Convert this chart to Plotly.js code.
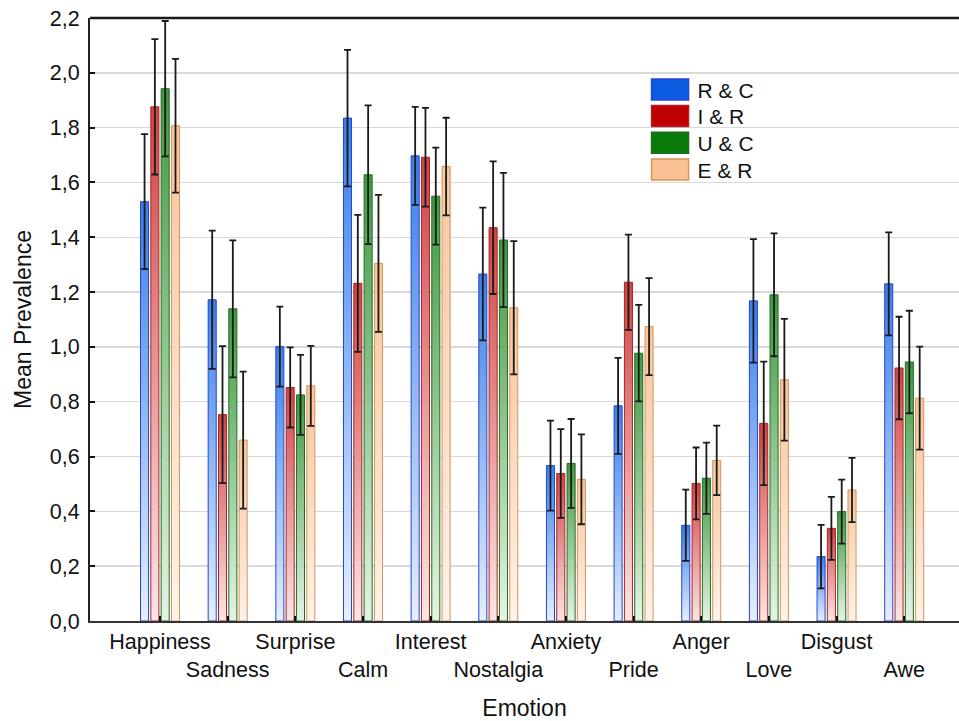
<!DOCTYPE html>
<html>
<head>
<meta charset="utf-8">
<script src="https://cdn.plot.ly/plotly-3.0.1.min.js"></script>
<style>html,body{margin:0;padding:0;background:#fff;}#chart{width:959px;height:721px;}</style>
</head>
<body>
<div id="chart"></div>
<script>
const categories = ["Happiness","Sadness","Surprise","Calm","Interest","Nostalgia","Anxiety","Pride","Anger","Love","Disgust","Awe"];
const seriesNames = ["R & C","I & R","U & C","E & R"];
const rcValues = [1.530,1.172,1.001,1.835,1.697,1.266,0.567,0.785,0.349,1.168,0.235,1.230];
const rcErrors = [0.246,0.252,0.146,0.249,0.179,0.242,0.164,0.175,0.130,0.225,0.116,0.188];
const irValues = [1.876,0.753,0.852,1.232,1.692,1.435,0.538,1.236,0.502,0.721,0.338,0.923];
const irErrors = [0.247,0.250,0.146,0.250,0.180,0.242,0.162,0.174,0.131,0.225,0.115,0.187];
const ucValues = [1.942,1.139,0.825,1.628,1.550,1.390,0.575,0.977,0.521,1.190,0.399,0.945];
const ucErrors = [0.247,0.250,0.146,0.253,0.177,0.245,0.162,0.176,0.130,0.224,0.117,0.187];
const erValues = [1.807,0.660,0.858,1.305,1.658,1.143,0.517,1.074,0.586,0.880,0.478,0.813];
const erErrors = [0.244,0.250,0.146,0.250,0.178,0.243,0.164,0.177,0.127,0.222,0.117,0.188];
const yTickValues = [0,0.2,0.4,0.6,0.8,1.0,1.2,1.4,1.6,1.8,2.0,2.2];

const legendColors = ["#0a5be0","#c00000","#0a7a0a","#f8c294"];
const outlineColors = ["#2345d6","#b02222","#1f6e1f","#d9925a"];
const gradTop = ["#3a7fe6","#cf4444","#419841","#f6c69c"];
const gradBottom = ["#e6effc","#fbe6e6","#e6f3e6","#fef3ea"];

const valueSets = [rcValues, irValues, ucValues, erValues];
const errorSets = [rcErrors, irErrors, ucErrors, erErrors];
// staggered tick labels (odd categories on a second row)
const tickText = categories.map((c,i) => i % 2 === 1 ? "<br>" + c : c);

const traces = seriesNames.map((name, k) => ({
  type: "bar",
  name: name,
  x: categories.map((c,i) => i),
  y: valueSets[k],
  marker: {color: legendColors[k], line: {color: outlineColors[k], width: 1}},
  error_y: {type: "data", array: errorSets[k], visible: true, color: "#1a1a1a", thickness: 1.8, width: 3.5},
  hoverinfo: "x+y"
}));

const layout = {
  width: 959, height: 721,
  margin: {l: 90, r: 0, t: 18, b: 100},
  paper_bgcolor: "#ffffff", plot_bgcolor: "#ffffff",
  font: {family: "Liberation Sans, Arial, sans-serif", color: "#111", size: 21},
  separators: ", ",
  barmode: "group",
  bargap: 0.39,
  bargroupgap: 0.22,
  showlegend: true,
  legend: {x: 0.6186, y: 0.915, xanchor: "left", yanchor: "top", bgcolor: "rgba(0,0,0,0)",
           font: {size: 21, color: "#111"}, itemwidth: 60, tracegroupgap: 0},
  xaxis: {
    range: [-1.035, 11.81],
    tickmode: "array", tickvals: categories.map((c,i) => i), ticktext: tickText,
    tickangle: 0,
    tickfont: {size: 21.5, color: "#111"},
    ticks: "inside", ticklen: 5, tickwidth: 2, tickcolor: "#111",
    showline: true, linecolor: "#333", linewidth: 2,
    showgrid: false, zeroline: false,
    title: {text: "Emotion", font: {size: 23, color: "#111"}, standoff: 22}
  },
  yaxis: {
    range: [0, 2.2], tickmode: "array", tickvals: yTickValues, tickformat: ".1f",
    tickfont: {size: 21.5, color: "#111"},
    ticks: "inside", ticklen: 5, tickwidth: 2, tickcolor: "#111",
    showline: true, linecolor: "#222", linewidth: 2,
    showgrid: true, gridcolor: "#d9d9d9", gridwidth: 1.5, zeroline: false,
    ticklabelstandoff: 4,
    title: {text: "Mean Prevalence", font: {size: 23, color: "#111"}, standoff: 12}
  },
  shapes: [{type: "line", xref: "paper", yref: "paper", x0: 0, x1: 1, y0: 1, y1: 1,
            line: {color: "#1a1a1a", width: 2.5}}]
};

Plotly.newPlot("chart", traces, layout, {displayModeBar: false, staticPlot: true}).then(gd => {
  const svg = gd.querySelector(".main-svg");
  const ns = "http://www.w3.org/2000/svg";
  let defs = svg.querySelector("defs");
  if (!defs) { defs = document.createElementNS(ns, "defs"); svg.insertBefore(defs, svg.firstChild); }
  gradTop.forEach((top, k) => {
    const g = document.createElementNS(ns, "linearGradient");
    g.setAttribute("id", "bargrad" + k);
    g.setAttribute("x1", "0"); g.setAttribute("y1", "0"); g.setAttribute("x2", "0"); g.setAttribute("y2", "1");
    const s1 = document.createElementNS(ns, "stop"); s1.setAttribute("offset", "0"); s1.setAttribute("stop-color", top);
    const s2 = document.createElementNS(ns, "stop"); s2.setAttribute("offset", "1"); s2.setAttribute("stop-color", gradBottom[k]);
    g.appendChild(s1); g.appendChild(s2); defs.appendChild(g);
  });
  gd.querySelectorAll(".barlayer .trace").forEach((tr, k) => {
    tr.querySelectorAll(".point path").forEach(p => { p.style.fill = "url(#bargrad" + k + ")"; p.style.fillOpacity = 1; });
  });
  const items = gd.querySelectorAll(".legend .traces");
  let baseX = null, baseY = null;
  items.forEach((t, k) => {
    const m = /translate\(\s*([-\d.]+)[ ,]\s*([-\d.]+)/.exec(t.getAttribute("transform") || "");
    if (m) {
      if (baseX === null) { baseX = parseFloat(m[1]); baseY = parseFloat(m[2]); }
      t.setAttribute("transform", "translate(" + baseX + "," + (baseY + k * 26.7) + ")");
    }
    t.querySelectorAll(".legendpoints path").forEach(p => {
      p.setAttribute("d", "M-11,-10.5H26V10.5H-11Z");
      p.style.fill = legendColors[k];
      p.style.stroke = outlineColors[k];
      p.style.strokeWidth = "1.5px";
    });
  });
});
</script>
</body>
</html>
